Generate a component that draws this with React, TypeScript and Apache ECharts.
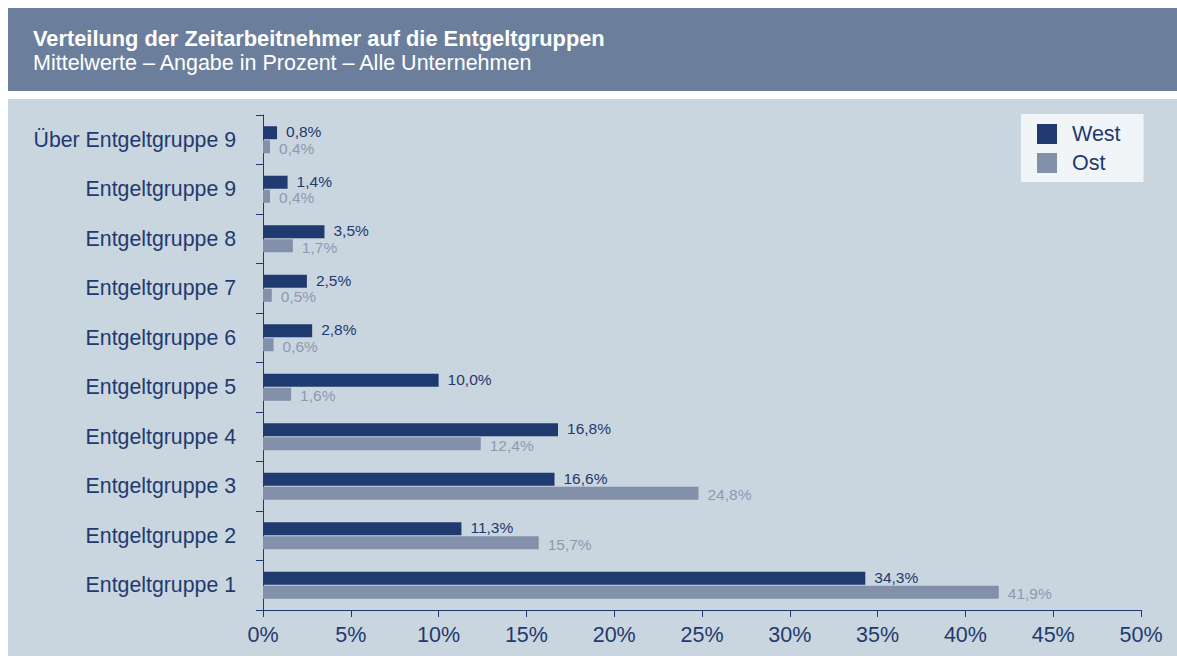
import React, { useEffect, useRef } from "react";
import * as echarts from "echarts";

const categories = [
  "Entgeltgruppe 1",
  "Entgeltgruppe 2",
  "Entgeltgruppe 3",
  "Entgeltgruppe 4",
  "Entgeltgruppe 5",
  "Entgeltgruppe 6",
  "Entgeltgruppe 7",
  "Entgeltgruppe 8",
  "Entgeltgruppe 9",
  "Über Entgeltgruppe 9",
];
const westValues = [34.3, 11.3, 16.6, 16.8, 10.0, 2.8, 2.5, 3.5, 1.4, 0.8];
const ostValues = [41.9, 15.7, 24.8, 12.4, 1.6, 0.6, 0.5, 1.7, 0.4, 0.4];
const xTicks = [0, 5, 10, 15, 20, 25, 30, 35, 40, 45, 50];

const NAVY = "#1f3a6e";
const GREY = "#8290aa";
const GREY_LABEL = "#8e9ab2";
const FONT = "'Liberation Sans', Arial, sans-serif";

const fmt = (v: number) => v.toFixed(1).replace(".", ",") + "%";

export default function App() {
  const ref = useRef<HTMLDivElement>(null);
  useEffect(() => {
    if (!ref.current) return;
    const chart = echarts.init(ref.current, undefined, { renderer: "svg" });
    chart.setOption({
      animation: false,
      backgroundColor: "#ffffff",
      textStyle: { fontFamily: FONT },
      graphic: [
        {
          type: "rect",
          shape: { x: 8, y: 8, width: 1169, height: 83 },
          style: { fill: "#6b7f9c" },
          z: -10,
        },
        {
          type: "rect",
          shape: { x: 8, y: 99, width: 1169, height: 557 },
          style: { fill: "#c9d5df" },
          z: -10,
        },
        {
          type: "text",
          x: 33,
          y: 38,
          style: {
            text: "Verteilung der Zeitarbeitnehmer auf die Entgeltgruppen",
            fill: "#ffffff",
            font: `bold 21.8px ${FONT}`,
            verticalAlign: "middle",
          },
        },
        {
          type: "text",
          x: 33,
          y: 63,
          style: {
            text: "Mittelwerte – Angabe in Prozent – Alle Unternehmen",
            fill: "#ffffff",
            font: `21.5px ${FONT}`,
            verticalAlign: "middle",
          },
        },
      ],
      legend: {
        orient: "vertical",
        left: 1021,
        top: 114,
        backgroundColor: "#f2f5f8",
        padding: [9, 23, 8, 16],
        itemWidth: 20,
        itemHeight: 20,
        itemGap: 7,
        icon: "rect",
        textStyle: {
          color: NAVY,
          fontSize: 21.5,
          lineHeight: 20,
          fontFamily: FONT,
          padding: [0, 0, 0, 10],
        },
        data: ["West", "Ost"],
      },
      grid: { left: 263, right: 36, top: 115, bottom: 46, containLabel: false },
      xAxis: {
        type: "value",
        min: 0,
        max: 50,
        interval: 5,
        axisLine: { show: true, lineStyle: { color: NAVY, width: 1 } },
        axisTick: { show: true, length: 7, lineStyle: { color: NAVY } },
        splitLine: { show: false },
        axisLabel: {
          color: NAVY,
          fontSize: 21.5,
          fontFamily: FONT,
          margin: 14,
          formatter: (v: number) => (xTicks.includes(v) ? v + "%" : ""),
        },
      },
      yAxis: {
        type: "category",
        data: categories,
        axisLine: { show: true, lineStyle: { color: NAVY, width: 1 } },
        axisTick: { show: true, length: 7, lineStyle: { color: NAVY } },
        axisLabel: { color: NAVY, fontSize: 21.3, fontFamily: FONT, margin: 27 },
      },
      series: [
        {
          name: "West",
          type: "bar",
          data: westValues,
          barWidth: 13,
          barGap: "8%",
          itemStyle: { color: NAVY },
          label: {
            show: true,
            position: "right",
            distance: 9,
            offset: [0, -1],
            color: NAVY,
            fontSize: 15.5,
            lineHeight: 14,
            fontFamily: FONT,
            formatter: (p: any) => fmt(p.value),
          },
        },
        {
          name: "Ost",
          type: "bar",
          data: ostValues,
          barWidth: 13,
          barGap: "8%",
          itemStyle: { color: GREY },
          label: {
            show: true,
            position: "right",
            distance: 9,
            offset: [0, 1.5],
            color: GREY_LABEL,
            fontSize: 15.5,
            lineHeight: 14,
            fontFamily: FONT,
            formatter: (p: any) => fmt(p.value),
          },
        },
      ],
    });
    return () => chart.dispose();
  }, []);
  return (
    <div
      ref={ref}
      style={{ position: "fixed", left: 0, top: 0, width: 1177, height: 656 }}
    />
  );
}
